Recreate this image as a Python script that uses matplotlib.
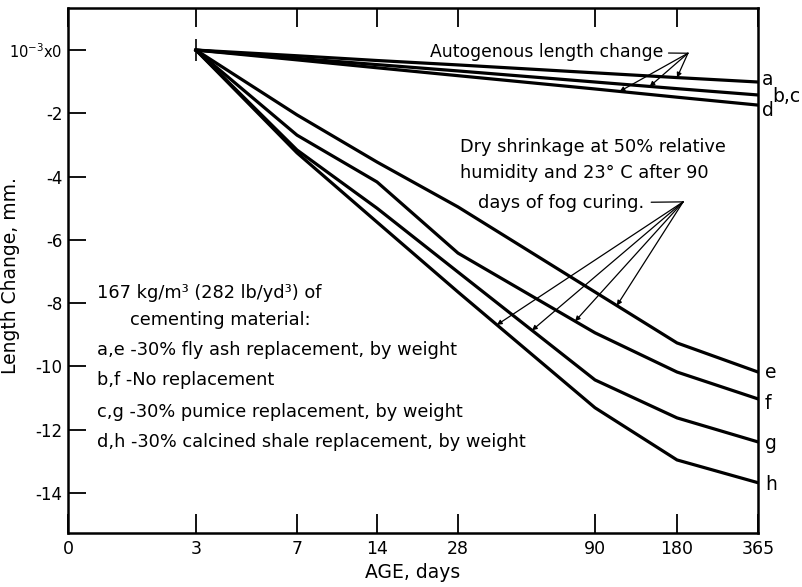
import numpy as np
import matplotlib
matplotlib.use("Agg")
import matplotlib.pyplot as plt

plt.rcParams['font.family'] = ['DejaVu Sans']

# age axis: days after casting
ages = [3, 7, 14, 28, 90, 180, 365]
tick_ages = [0, 3, 7, 14, 28, 90, 180, 365]

# autogenous length change, 10^-3 mm
auto_a = [0, -0.18, -0.33, -0.47, -0.72, -0.87, -1.01]
auto_bc = [0, -0.26, -0.46, -0.66, -1.01, -1.22, -1.42]
auto_d = [0, -0.31, -0.56, -0.81, -1.23, -1.49, -1.74]

# drying shrinkage after fog curing, 10^-3 mm
dry_e = [0, -2.05, -3.54, -4.96, -7.65, -9.26, -10.18]
dry_f = [0, -2.69, -4.17, -6.42, -8.94, -10.18, -11.03]
dry_g = [0, -3.16, -5.00, -7.02, -10.43, -11.63, -12.39]
dry_h = [0, -3.25, -5.44, -7.65, -11.31, -12.96, -13.68]

yticks = [0, -2, -4, -6, -8, -10, -12, -14]
ylabels = ['10$^{-3}$x0', '-2', '-4', '-6', '-8', '-10', '-12', '-14']

# the age scale on the original sheet is hand spaced, not a clean log
tick_pos = [0, 128, 229, 309, 390, 527, 609, 690]


def fwd(x):
    return np.interp(x, tick_ages, tick_pos)


def inv(p):
    return np.interp(p, tick_pos, tick_ages)


fig = plt.figure(figsize=(8.02, 5.87), dpi=100)
ax = fig.add_axes([68/802, 1 - 533/587, 690/802, 525/587])
ax.set_xscale('function', functions=(fwd, inv))
ax.set_xlim(0, 365)
ax.set_ylim(-15.27, 1.33)

lw = 2.3
for s in [auto_a, auto_bc, auto_d, dry_e, dry_f, dry_g, dry_h]:
    ax.plot(ages, s, color='k', lw=lw, solid_joinstyle='miter')
ax.plot([3], [0], marker='|', ms=16, mew=1.2, color='k')

for sp in ax.spines.values():
    sp.set_linewidth(1.8)

ax.set_xticks(tick_ages)
ax.set_xticklabels([str(a) for a in tick_ages])
ax.set_yticks(yticks)
ax.set_yticklabels(ylabels)
ax.tick_params(axis='x', direction='in', length=14, width=1.3, top=True,
               labelsize=12.5, pad=5)
ax.tick_params(axis='y', direction='in', length=13, width=1.3,
               labelsize=12, pad=4)
ax.get_yticklabels()[0].set_fontsize(10.5)
ax.set_xlabel('AGE, days', fontsize=13.5, labelpad=4)
ax.set_ylabel('Length Change, mm.', fontsize=13.5)
ax.yaxis.set_label_coords(-0.069, 0.49)

# curve letters on the right edge
ends = [(auto_a, 'a', 3, 2), (auto_bc, 'b,c', 10, -1), (auto_d, 'd', 3, -4),
        (dry_e, 'e', 5, 0), (dry_f, 'f', 5, -3), (dry_g, 'g', 5, -1),
        (dry_h, 'h', 5, -1)]
for s, lab, dx, dy in ends:
    ax.annotate(lab, xy=(365, s[-1]), xytext=(dx, dy), textcoords='offset points',
                ha='left', va='center', fontsize=13.5, annotation_clip=False)

arrow = dict(arrowstyle='-|>', lw=0.9, color='k', mutation_scale=7,
             shrinkA=0, shrinkB=0)

# autogenous callout
auto_apex = (205, -0.10)
ax.annotate('Autogenous length change', xy=auto_apex, xytext=(-18, 1),
            textcoords='offset points', ha='right', va='center', fontsize=12.4,
            arrowprops=dict(arrowstyle='-', lw=0.9, shrinkA=2, shrinkB=0))
for age, s in [(117, auto_d), (150, auto_bc), (180, auto_a)]:
    ax.annotate('', xy=(age, np.interp(age, ages, s)), xytext=auto_apex,
                arrowprops=arrow)

# drying shrinkage callout
dry_apex = (194, -4.80)
ax.text(0.568, 0.735, 'Dry shrinkage at 50% relative', transform=ax.transAxes,
        ha='left', va='center', fontsize=12.8)
ax.text(0.568, 0.686, 'humidity and 23° C after 90', transform=ax.transAxes,
        ha='left', va='center', fontsize=12.8)
ax.annotate('days of fog curing.', xy=dry_apex, xytext=(-28, -1),
            textcoords='offset points', ha='right', va='center', fontsize=12.8,
            arrowprops=dict(arrowstyle='-', lw=0.9, shrinkA=3, shrinkB=0))
for age, s in [(45.6, dry_h), (61.5, dry_g), (81, dry_f), (114, dry_e)]:
    ax.annotate('', xy=(age, np.interp(age, ages, s)), xytext=dry_apex,
                arrowprops=arrow)

# mix description
notes = [(0.042, 0.457, '167 kg/m³ (282 lb/yd³) of'),
         (0.090, 0.406, 'cementing material:'),
         (0.042, 0.349, 'a,e -30% fly ash replacement, by weight'),
         (0.042, 0.291, 'b,f -No replacement'),
         (0.042, 0.230, 'c,g -30% pumice replacement, by weight'),
         (0.042, 0.173, 'd,h -30% calcined shale replacement, by weight')]
for x, y, t in notes:
    ax.text(x, y, t, transform=ax.transAxes, ha='left', va='center', fontsize=12.8)

fig.savefig('out.png', dpi=100)
